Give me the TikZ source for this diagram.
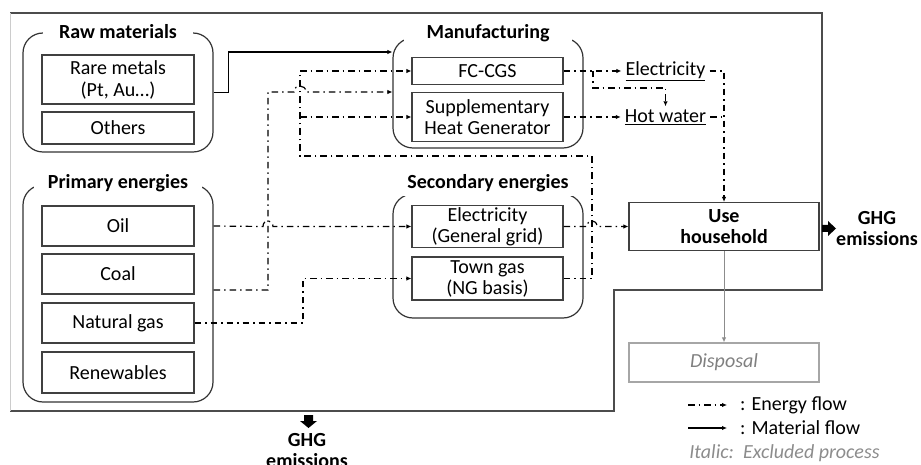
\documentclass[tikz,border=0pt]{standalone}
\usepackage{fontspec}
\setmainfont{Carlito}
\usetikzlibrary{arrows.meta}
\newcommand{\fs}{\fontsize{20}{21}\selectfont}
\begin{document}
\begin{tikzpicture}[x=1pt,y=-1pt,
  font=\fs,
  every node/.style={text=black},
  box/.style={draw=black!75, line width=1.2pt, fill=white, inner sep=0pt, align=center,
    minimum width=152pt},
  grp/.style={draw=black!80, line width=1.2pt, rounded corners=20pt, minimum width=190pt, inner sep=0pt},
  ttl/.style={fill=white, inner sep=0pt, minimum height=26pt, font=\fs\bfseries},
  lbl/.style={inner xsep=4pt, inner ysep=3pt},
  eflow/.style={draw=black, line width=1.2pt, dash pattern=on 6.5pt off 4pt on 1.5pt off 4pt},
  earrow/.style={eflow, -{Latex[length=5pt,width=4.5pt]}},
  matflow/.style={draw=black, line width=1.4pt, -{Latex[length=5pt,width=4.5pt]}},
  bound/.style={draw=black!70, line width=1.2pt},
]
\useasboundingbox (0,0) rectangle (921,465);

% system boundary
\draw[bound] (10,13) -- (822,13) -- (822,290) -- (614,290) -- (614,411) -- (10,411);
\draw[black!20, line width=1pt] (10,13) -- (10,411);

% groups
\node[grp, minimum height=119pt] (raw) at (118,92.5) {};
\node[grp, minimum height=217pt] (prim) at (118,293.5) {};
\node[grp, minimum height=110pt] (manu) at (488,93) {};
\node[grp, minimum height=124pt] (sec) at (488,256) {};
\node[ttl, minimum width=150pt] (rawt) at (118,32) {Raw materials};
\node[ttl, minimum width=168pt] (primt) at (118,183) {Primary energies};
\node[ttl, minimum width=168pt] (manut) at (488,33) {Manufacturing};
\node[ttl, minimum width=180pt] (sect) at (488,183) {Secondary energies};

% boxes
\node[box, minimum height=49pt] (rare) at (118,79.5) {Rare metals\\[1pt](Pt, Au\dots)};
\node[box, minimum height=32pt] (oth) at (118,128) {Others};
\node[box, minimum height=40pt] (oil) at (118,226) {Oil};
\node[box, minimum height=40pt] (coal) at (118,274) {Coal};
\node[box, minimum height=40pt] (ng) at (118,323) {Natural gas};
\node[box, minimum height=41pt] (ren) at (118,372.5) {Renewables};
\node[box, minimum width=151pt, minimum height=27pt] (fc) at (487.5,71) {FC-CGS};
\node[box, minimum width=151pt, minimum height=49pt] (supp) at (487.5,117) {Supplementary\\Heat Generator};
\node[box, minimum width=151pt, minimum height=42pt] (grid) at (487.5,226.5) {Electricity\\(General grid)};
\node[box, minimum width=151pt, minimum height=43pt] (town) at (487.5,278.5) {Town gas\\(NG basis)};
\node[box, minimum width=190pt, minimum height=48pt, font=\fs\bfseries, align=center] (use) at (724,226.5)
  {\fontsize{20}{23}\selectfont Use\\household};
\node[box, draw=black!35, minimum width=190pt, minimum height=39pt, font=\fs\itshape, text=black!50] (disp) at (724,362.5) {Disposal};

% output labels
\node[lbl] (elec) at (665.5,71) {\underline{Electricity}};
\node[lbl] (hot) at (665.5,117) {\underline{Hot water}};

% material flow
\draw[matflow] (raw.east) -- ++(15,0) |- (manu.west |- 0,52);

% energy flows
\draw[earrow] (prim.east |- oil.east) -- (263,226.5) .. controls (263,219) and (273,219) .. (273,226.5) -- (grid.west);
\draw[earrow] (prim.east |- 0,290) -- (268,290) -- (268,92) -- (294,92) .. controls (294,84) and (306,84) .. (306,92) -- (manu.west |- 0,92);
\draw[earrow] (ng.east) -- (303,323) -- (303,278.5) -- (town.west);
\draw[earrow] (town.east) -- (592,278.5) -- (592,156) -- (300,156) -- (300,71) -- (fc.west);
\draw[earrow] (300,117) -- (supp.west);
\draw[earrow] (grid.east) -- (587,226.5) .. controls (587,219) and (597,219) .. (597,226.5) -- (use.west);
\draw[earrow] (fc.east) -- (elec.west);
\draw[earrow] (593,71) -- (593,88) -| (hot.north);
\draw[earrow] (supp.east) -- (hot.west);
\draw[earrow] (elec.east) -| (use.north);
\draw[eflow] (hot.east) -- (use.north |- hot.east);

% use -> disposal
\draw[black!45, line width=1pt, -{Latex[length=5pt,width=4.5pt]}] (use.south) -- (disp.north);

% GHG emissions
\fill[black] (822,225) -- (828,225) -- (828,221) -- (836,228.5) -- (828,236) -- (828,232) -- (822,232) -- cycle;
\node[font=\fs\bfseries, align=center] (ghgr) at (877,229) {\fontsize{20}{24}\selectfont GHG\\emissions};
\fill[black] (304,415) -- (313,415) -- (313,421) -- (317,421) -- (308.5,428) -- (300,421) -- (304,421) -- cycle;
\node[font=\fs\bfseries, align=center] (ghgb) at (307,451) {\fontsize{20}{23}\selectfont GHG\\emissions};

% legend
\coordinate (le1) at (688,405);
\coordinate (le2) at (727,405);
\coordinate (lm1) at (688,428);
\coordinate (lm2) at (727,428);
\draw[earrow] (le1) -- (le2);
\draw[matflow] (lm1) -- (lm2);
\node[anchor=west, inner sep=0pt] (lt1) at (740,405) {: Energy flow};
\node[anchor=west, inner sep=0pt] (lt2) at (740,428) {: Material flow};
\node[font=\fs\itshape, text=black!45, inner sep=0pt] (lt3) at (784.5,453) {Italic:\ \ Excluded process};
\end{tikzpicture}
\end{document}
